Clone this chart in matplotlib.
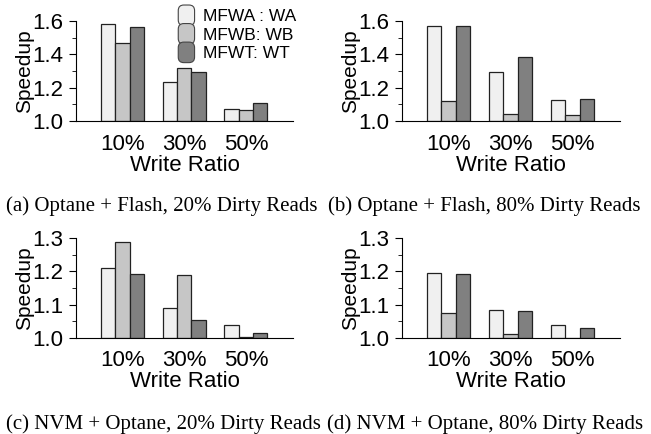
import matplotlib
matplotlib.use("Agg")
import matplotlib.pyplot as plt
from matplotlib.patches import FancyBboxPatch, Rectangle
from matplotlib.legend_handler import HandlerPatch
import numpy as np

plt.rcParams["font.family"] = ["Liberation Sans", "DejaVu Sans"]

ratios = ["10%", "30%", "50%"]
series = ["MFWA : WA", "MFWB: WB", "MFWT: WT"]
colors = ["#f0f0f0", "#c6c6c6", "#808080"]

# speedup per panel: rows = WA, WB, WT ; cols = 10/30/50 %
a_vals = [[1.582, 1.236, 1.072], [1.470, 1.318, 1.068], [1.564, 1.294, 1.110]]
b_vals = [[1.570, 1.294, 1.124], [1.122, 1.042, 1.038], [1.570, 1.382, 1.134]]
c_vals = [[1.211, 1.091, 1.039], [1.289, 1.189, 1.004], [1.193, 1.054, 1.015]]
d_vals = [[1.194, 1.083, 1.039], [1.076, 1.013, 1.001], [1.193, 1.081, 1.030]]

captions = ["(a) Optane + Flash, 20% Dirty Reads", "(b) Optane + Flash, 80% Dirty Reads",
            "(c) NVM + Optane, 20% Dirty Reads", "(d) NVM + Optane, 80% Dirty Reads"]


class RoundHandler(HandlerPatch):
    def create_artists(self, legend, orig, xd, yd, w, h, fs, trans):
        p = FancyBboxPatch((-xd + 1, -yd - 2), w - 2, h + 4,
                           boxstyle="round,pad=0,rounding_size=4",
                           fc=orig.get_facecolor(), ec="#444444", lw=0.8, transform=trans)
        return [p]


fig = plt.figure(figsize=(6.51, 4.34), dpi=100)
boxes = [(0.1167, 0.721, 0.3333, 0.231), (0.6175, 0.721, 0.3345, 0.231),
         (0.1167, 0.2212, 0.3333, 0.2304), (0.6175, 0.2212, 0.3345, 0.2304)]
panels = [a_vals, b_vals, c_vals, d_vals]
x = np.arange(len(ratios))
w = 0.232
for i, (box, vals) in enumerate(zip(boxes, panels)):
    ax = fig.add_axes(box)
    handles = []
    for j in range(3):
        v = np.array(vals[j])
        ax.bar(x + (j - 1) * w, v - 1.0, w, bottom=1.0, color=colors[j],
               edgecolor="#222222", linewidth=0.9)
        handles.append(Rectangle((0, 0), 1, 1, fc=colors[j]))
    top = 1.6 if i < 2 else 1.3
    step = 0.2 if i < 2 else 0.1
    ax.set_ylim(1.0, top)
    ax.set_yticks(np.arange(1.0, top + 1e-9, step))
    ax.set_yticks(np.arange(1.0, top + 1e-9, step / 2), minor=True)
    ax.yaxis.set_major_formatter(matplotlib.ticker.FormatStrFormatter("%.1f"))
    ax.set_xlim(-0.75, 2.76)
    ax.set_xticks(x)
    ax.set_xticklabels(ratios)
    ax.tick_params(axis="x", length=0, labelsize=16, pad=9)
    ax.tick_params(axis="y", which="major", length=5, labelsize=16, pad=4)
    ax.tick_params(axis="y", which="minor", length=3)
    for s in ["top", "right"]:
        ax.spines[s].set_visible(False)
    ax.set_xlabel("Write Ratio", fontsize=16, labelpad=0)
    ax.set_ylabel("Speedup", fontsize=15, labelpad=-1)
    if i == 0:
        ax.legend(handles, series, loc="upper left", bbox_to_anchor=(0.465, 1.13),
                  frameon=False, fontsize=12.5, handlelength=1.1, handleheight=0.95,
                  handletextpad=0.4, labelspacing=0.12, borderaxespad=0, borderpad=0,
                  handler_map={Rectangle: RoundHandler()})

cap_font = ["Liberation Serif", "DejaVu Serif"]
fig.text(6 / 651, 1 - 211 / 434, captions[0], family=cap_font, fontsize=15, va="baseline")
fig.text(328 / 651, 1 - 211 / 434, captions[1], family=cap_font, fontsize=15, va="baseline")
fig.text(6 / 651, 1 - 429 / 434, captions[2], family=cap_font, fontsize=15, va="baseline")
fig.text(327 / 651, 1 - 429 / 434, captions[3], family=cap_font, fontsize=15, va="baseline")

fig.savefig("out.png", dpi=100)
